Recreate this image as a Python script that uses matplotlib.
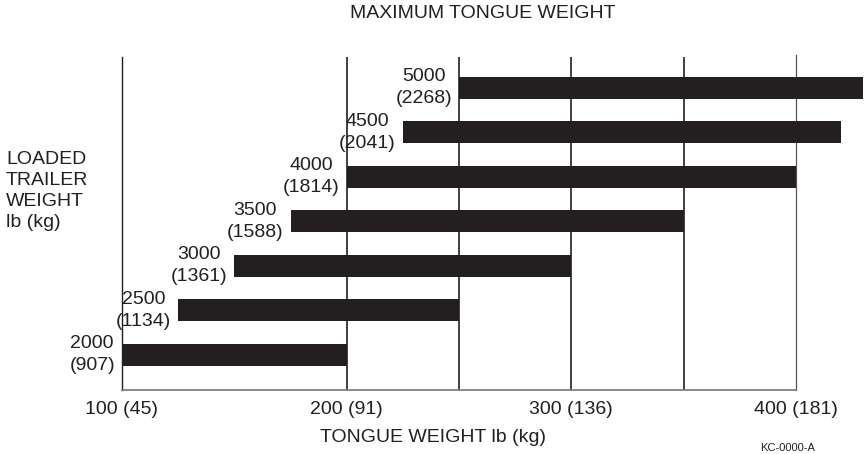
import matplotlib.pyplot as plt

plt.rcParams['font.family'] = ['Liberation Sans', 'DejaVu Sans']

INK = '#231f20'

# loaded trailer weight per bar, lb and kg
trailer_lb = [2000, 2500, 3000, 3500, 4000, 4500, 5000]
trailer_kg = [907, 1134, 1361, 1588, 1814, 2041, 2268]
# tongue weight range (lb) for each bar
tongue_min = [100, 125, 150, 175, 200, 225, 250]
tongue_max = [200, 250, 300, 350, 400, 420, 430]

grid_x = [200, 250, 300, 350]
tick_x = [100, 200, 300, 400]
tick_labels = ['100 (45)', '200 (91)', '300 (136)', '400 (181)']

fig = plt.figure(figsize=(8.65, 4.54), dpi=100)
ax = fig.add_axes([122 / 865, 64 / 454, (796 - 122) / 865, 333 / 454])
ax.set_xlim(100, 400)
ax.set_ylim(-0.79, 6.69)

for x in grid_x:
    ax.axvline(x, color=INK, lw=1.2, zorder=1)
ax.axvline(400, color='#555555', lw=0.9, zorder=1, ymax=1.007, clip_on=False)

ypos = list(range(len(trailer_lb)))
widths = [b - a for a, b in zip(tongue_min, tongue_max)]
bars = ax.barh(ypos, widths, left=tongue_min, height=0.5, color=INK, zorder=2)
for b in bars:
    b.set_clip_on(False)

for y, x0, lb, kg in zip(ypos, tongue_min, trailer_lb, trailer_kg):
    ax.annotate(f'{lb}\n({kg})', xy=(x0, y), xytext=(-5, 0), textcoords='offset points',
                ha='right', va='center', multialignment='center',
                fontsize=14, color=INK, linespacing=1.38, annotation_clip=False)

for s in ['top', 'right']:
    ax.spines[s].set_visible(False)
ax.spines['left'].set_color(INK)
ax.spines['left'].set_linewidth(1.0)
ax.spines['bottom'].set_color('#777777')
ax.spines['bottom'].set_linewidth(1.2)

ax.set_yticks([])
ax.set_xticks(tick_x, tick_labels)
ax.tick_params(axis='x', length=0, pad=8, labelsize=14, labelcolor=INK)

fig.text(483 / 865, 1 - 14 / 454, 'MAXIMUM TONGUE WEIGHT', ha='center', va='center',
         fontsize=14, color=INK)
fig.text(433 / 865, 1 - 438 / 454, 'TONGUE WEIGHT lb (kg)', ha='center', va='center',
         fontsize=14, color=INK)
fig.text(6 / 865, 1 - 191 / 454, 'LOADED\nTRAILER\nWEIGHT\nlb (kg)', ha='left', va='center',
         fontsize=14, color=INK, linespacing=1.3)
fig.text(760 / 865, 1 / 454, 'KC-0000-A', ha='left', va='bottom', fontsize=8, color=INK)

fig.savefig('out.png', dpi=100)
